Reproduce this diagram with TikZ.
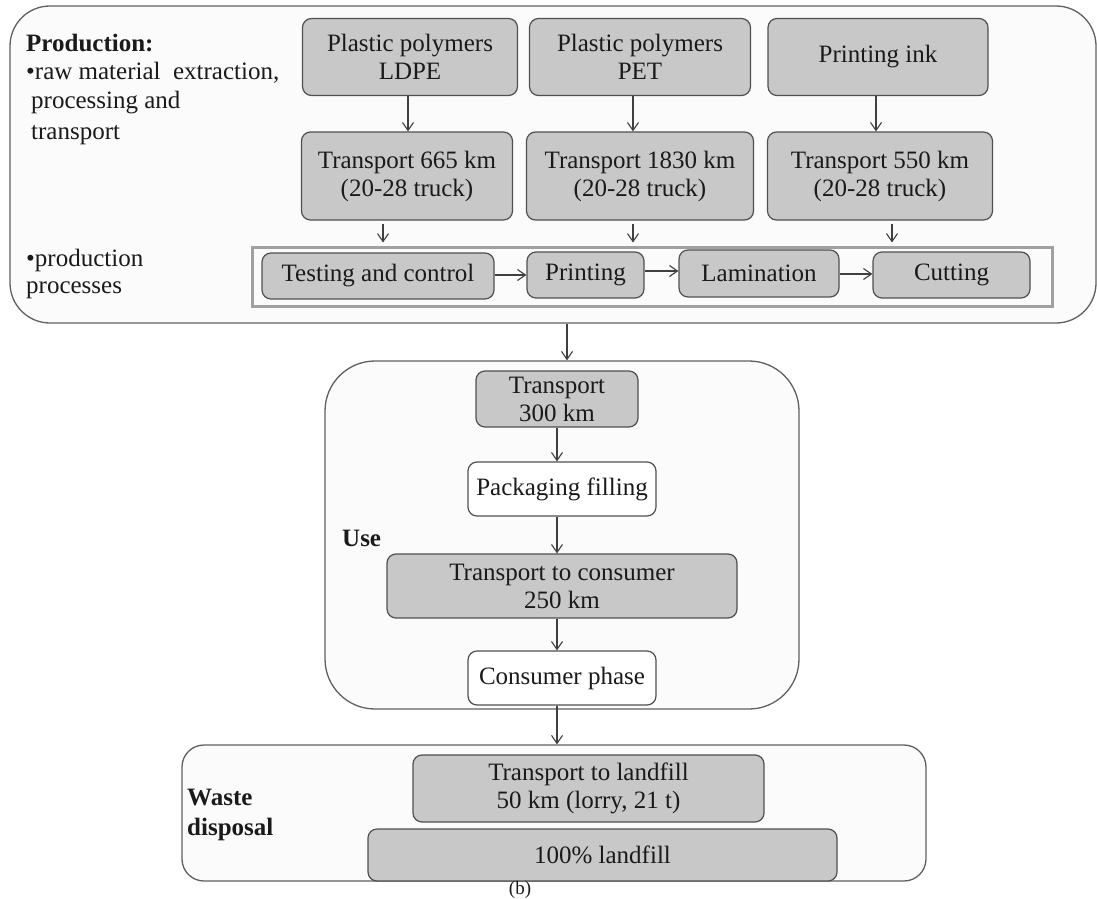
\documentclass[tikz,border=0pt]{standalone}
\usepackage{fontspec}
\setmainfont{Liberation Serif}
\usetikzlibrary{arrows.meta}
\definecolor{boxfill}{HTML}{C8C8C8}
\definecolor{boxline}{HTML}{505050}
\definecolor{outerfill}{HTML}{FBFBFB}
\definecolor{outerline}{HTML}{606060}
\definecolor{framecol}{HTML}{A0A0A0}
\definecolor{txt}{HTML}{1A1A1A}
\definecolor{arrcol}{HTML}{404040}
\tikzset{
  outerbox/.style={draw=outerline, fill=outerfill, line width=1.3pt, inner sep=0pt},
  graybox/.style={draw=boxline, fill=boxfill, line width=1.2pt, rounded corners=9pt, inner sep=0pt, align=center, text=txt, font=\fontsize{25}{28}\selectfont},
  whitebox/.style={graybox, fill=white},
  lbl/.style={anchor=west, inner sep=0pt, text=txt, font=\fontsize{25}{28}\selectfont, align=left},
  arr/.style={draw=arrcol, line width=1.1pt, -{Straight Barb[length=8pt,width=11pt,line width=1.1pt]}},
}
\begin{document}
\begin{tikzpicture}[x=1pt,y=-1pt]
\useasboundingbox (0,0) rectangle (1097,899);
\fill[white] (0,0) rectangle (1097,899);

% outer boxes
\node[outerbox, rounded corners=40pt, minimum width=1086pt, minimum height=317pt] (prod) at (553,164.5) {};
\node[outerbox, rounded corners=50pt, minimum width=474pt, minimum height=348pt] (use) at (562,535) {};
\node[outerbox, rounded corners=22pt, minimum width=744pt, minimum height=136pt] (waste) at (554,813) {};

% production labels
\node[lbl, font=\fontsize{25}{28}\selectfont\bfseries] (plab) at (26,43) {Production:};
\node[lbl] (raw1) at (26,73) {•raw material\ \ extraction,};
\node[lbl] (raw2) at (31,103) {processing and};
\node[lbl] (raw3) at (31,135) {transport};
\node[lbl] (pp1) at (26,260) {•production};
\node[lbl] (pp2) at (26,290) {processes};

% row 1
\node[graybox, minimum width=215pt, minimum height=77pt] (ldpe) at (410,57) {Plastic polymers\\LDPE};
\node[graybox, minimum width=221pt, minimum height=77pt] (pet) at (640,57) {Plastic polymers\\PET};
\node[graybox, minimum width=220pt, minimum height=77pt] (ink) at (878,57) {Printing ink};

% row 2
\node[graybox, minimum width=211pt, minimum height=88pt] (t665) at (407,176) {Transport 665 km\\(20-28 truck)};
\node[graybox, minimum width=227pt, minimum height=88pt] (t1830) at (640,176) {Transport 1830 km\\(20-28 truck)};
\node[graybox, minimum width=225pt, minimum height=88pt] (t550) at (880,176) {Transport 550 km\\(20-28 truck)};

% process frame
\node[draw=framecol, line width=3pt, minimum width=800pt, minimum height=59pt, inner sep=0pt] (frame) at (652,276.5) {};
\node[graybox, minimum width=232pt, minimum height=46pt] (test) at (378,276) {Testing and control};
\node[graybox, minimum width=117pt, minimum height=46pt] (print) at (585.5,275) {Printing};
\node[graybox, minimum width=160pt, minimum height=47pt] (lam) at (759,273.5) {Lamination};
\node[graybox, minimum width=157pt, minimum height=46pt] (cut) at (951.5,275) {Cutting};

% arrows production
\draw[arr] (ldpe.south -| 408,0) -- (t665.north -| 408,0);
\draw[arr] (pet.south -| 633,0) -- (t1830.north -| 633,0);
\draw[arr] (ink.south -| 876,0) -- (t550.north -| 876,0);
\draw[arr, shorten <=3pt, shorten >=3pt] (t665.south -| 383,0) -- (frame.north -| 383,0);
\draw[arr, shorten <=3pt, shorten >=3pt] (t1830.south -| 633,0) -- (frame.north -| 633,0);
\draw[arr, shorten <=3pt, shorten >=3pt] (t550.south -| 892,0) -- (frame.north -| 892,0);
\draw[arr] (test.east |- 0,275) -- (print.west |- 0,275);
\draw[arr] (print.east |- 0,271) -- (lam.west |- 0,271);
\draw[arr] (lam.east |- 0,274) -- (cut.west |- 0,274);

% use phase
\draw[arr] (prod.south -| 567,0) -- (use.north -| 567,0);
\node[lbl, font=\fontsize{25}{28}\selectfont\bfseries] (uselab) at (342,538) {Use};
\node[graybox, minimum width=162pt, minimum height=56pt] (t300) at (557,399) {Transport\\300 km};
\node[whitebox, minimum width=188pt, minimum height=54pt] (pack) at (562,489) {Packaging filling};
\node[graybox, minimum width=350pt, minimum height=64pt] (tcons) at (562,586) {Transport to consumer\\250 km};
\node[whitebox, minimum width=188pt, minimum height=54pt] (cons) at (562,678) {Consumer phase};
\draw[arr] (t300.south -| 557,0) -- (pack.north -| 557,0);
\draw[arr] (pack.south -| 557,0) -- (tcons.north -| 557,0);
\draw[arr] (tcons.south -| 557,0) -- (cons.north -| 557,0);
\draw[arr] (cons.south -| 557,0) -- (waste.north -| 557,0);

% waste
\node[lbl, font=\fontsize{25}{30}\selectfont\bfseries] (wlab) at (187,815) {Waste\\disposal};
\node[graybox, minimum width=351pt, minimum height=67pt] (tland) at (588.5,788.5) {Transport to landfill\\50 km (lorry, 21 t)};
\node[graybox, minimum width=469pt, minimum height=52pt] (land) at (602.5,855) {100\% landfill};

\node[inner sep=0pt, anchor=south, text=txt, font=\fontsize{19}{22}\selectfont] (blab) at (520,898.5) {(b)};
\end{tikzpicture}
\end{document}
